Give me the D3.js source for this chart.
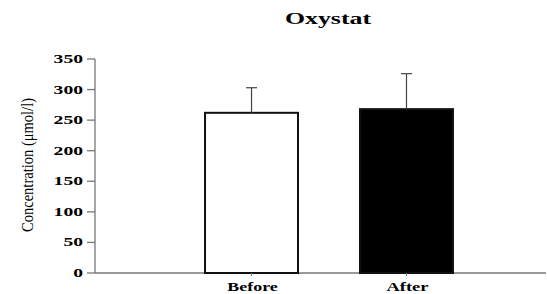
<!DOCTYPE html>
<html><head><meta charset="utf-8">
<script src="https://cdn.jsdelivr.net/npm/d3@7/dist/d3.min.js"></script>
<style>body{margin:0;background:#fff}svg{display:block}</style>
</head><body>
<script>
const categories = ["Before", "After"];
const means = [262, 268];
const errors = [41, 58];
const fills = ["#ffffff", "#000000"];
const yTicks = [0, 50, 100, 150, 200, 250, 300, 350];
const title = "Oxystat";
const yLabel = "Concentration (μmol/l)";

const W = 547, H = 294;
const svg = d3.select("body").append("svg").attr("width", W).attr("height", H);

const y = d3.scaleLinear().domain([0, 350]).range([273, 59]);
const x = d3.scaleBand().domain(categories).range([95, 563]).paddingInner(0.4).paddingOuter(0.71);

// axes
svg.append("line").attr("x1", 95).attr("x2", 546).attr("y1", y(0)).attr("y2", y(0))
  .attr("stroke", "#777").attr("stroke-width", 1.3);
svg.append("line").attr("x1", 95).attr("x2", 95).attr("y1", y(0)).attr("y2", y(350))
  .attr("stroke", "#777").attr("stroke-width", 1.3);

const yAxis = svg.append("g");
yTicks.forEach(t => {
  yAxis.append("line").attr("x1", 87).attr("x2", 95).attr("y1", y(t)).attr("y2", y(t))
    .attr("stroke", "#777").attr("stroke-width", 1.3);
  const s = String(t);
  yAxis.append("text").attr("x", 83).attr("y", y(t)).attr("dy", "0.35em")
    .attr("text-anchor", "end")
    .attr("font-family", "Liberation Serif, serif").attr("font-weight", "bold")
    .attr("font-size", 11.5)
    .attr("textLength", s.length * 9.8).attr("lengthAdjust", "spacingAndGlyphs")
    .text(s);
});

// bars
svg.selectAll("rect.bar").data(categories).enter().append("rect")
  .attr("x", d => x(d)).attr("width", x.bandwidth())
  .attr("y", (d, i) => y(means[i])).attr("height", (d, i) => y(0) - y(means[i]))
  .attr("fill", (d, i) => fills[i]).attr("stroke", "#111").attr("stroke-width", 2);

// error bars
categories.forEach((c, i) => {
  const cx = x(c) + x.bandwidth() / 2;
  svg.append("line").attr("x1", cx).attr("x2", cx).attr("y1", y(means[i])).attr("y2", y(means[i] + errors[i]))
    .attr("stroke", "#444").attr("stroke-width", 1.2);
  svg.append("line").attr("x1", cx - 5.5).attr("x2", cx + 5.5)
    .attr("y1", y(means[i] + errors[i])).attr("y2", y(means[i] + errors[i]))
    .attr("stroke", "#444").attr("stroke-width", 1.2);
  svg.append("line").attr("x1", cx).attr("x2", cx).attr("y1", y(0)).attr("y2", y(0) + 3)
    .attr("stroke", "#777").attr("stroke-width", 1);
  svg.append("text").attr("x", cx + 1).attr("y", 291)
    .attr("text-anchor", "middle")
    .attr("font-family", "Liberation Serif, serif").attr("font-weight", "bold")
    .attr("font-size", 11.5)
    .attr("textLength", c.length * 8.4).attr("lengthAdjust", "spacingAndGlyphs")
    .text(c);
});

// title
svg.append("text").attr("x", 328).attr("y", 24).attr("text-anchor", "middle")
  .attr("font-family", "Liberation Serif, serif").attr("font-weight", "bold")
  .attr("font-size", 16)
  .attr("textLength", 86).attr("lengthAdjust", "spacingAndGlyphs")
  .text(title);

// y label
svg.append("text").attr("transform", "translate(33,165) rotate(-90)")
  .attr("text-anchor", "middle")
  .attr("font-family", "Liberation Serif, serif")
  .attr("font-size", 16)
  .attr("textLength", 134).attr("lengthAdjust", "spacingAndGlyphs")
  .text(yLabel);
</script>
</body></html>
